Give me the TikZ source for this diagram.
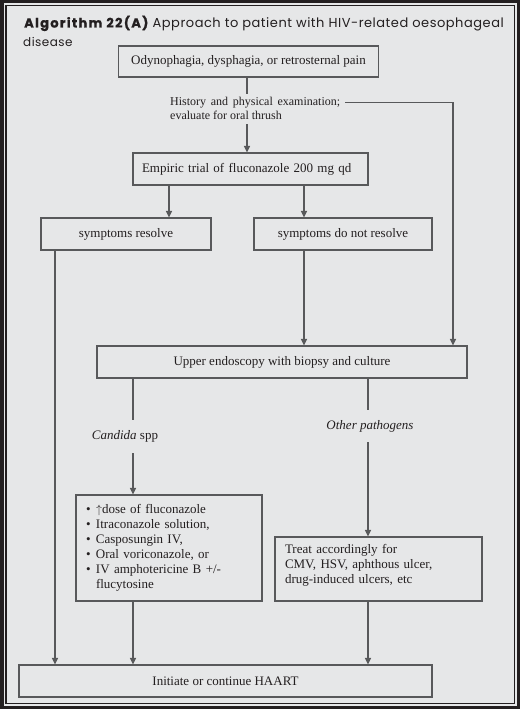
\documentclass[tikz,border=0pt]{standalone}
\usepackage{fontspec}
\setmainfont{Liberation Serif}
\newfontfamily\titlefont[LetterSpace=4]{Poppins}
\newfontfamily\titlebold[LetterSpace=10, BoldFeatures={FakeBold=1.2}]{Poppins}
\usetikzlibrary{arrows.meta,calc}
\definecolor{framec}{HTML}{231F20}
\definecolor{panelc}{HTML}{E6E7E8}
\definecolor{linec}{HTML}{58595B}
\definecolor{txtc}{HTML}{231F20}
\begin{document}
\begin{tikzpicture}[x=1pt,y=-1pt,
  box/.style={draw=linec, line width=1.1pt, fill=panelc, inner sep=0pt, text=txtc, font=\fontsize{13}{15}\selectfont},
  lbl/.style={inner sep=0pt, text=txtc, font=\fontsize{13}{15}\selectfont},
  arr/.style={draw=linec, line width=1.1pt, -{Triangle[length=6.5pt,width=6pt]}},
  conn/.style={draw=linec, line width=1.1pt}]
\useasboundingbox (0,0) rectangle (520,709);
\fill[framec] (0,0) rectangle (520,709);
\fill[panelc] (3.5,3.5) rectangle (516.5,705.5);
\fill[framec] (5,5) rectangle (515,704);
\fill[panelc] (6.5,6.5) rectangle (513.5,702.5);
% coordinates of connector columns
\coordinate (cx) at (247,0);
\coordinate (rx) at (453,0);
\coordinate (ax1) at (169,0);
\coordinate (ax2) at (304,0);
\coordinate (lx) at (55,0);
\coordinate (kx) at (133,0);
\coordinate (ox) at (368,0);
% title
\node[anchor=base west, inner sep=0pt, text=txtc] (t1) at (24,27.5)
  {\fontsize{13}{16}\selectfont{\titlebold\bfseries Algorithm 22(A)}\hspace{1pt} \titlefont Approach to patient with HIV-related oesophageal};
\node[anchor=base west, inner sep=0pt, text=txtc] (t2) at (23,47)
  {\titlefont\fontsize{12}{16}\selectfont disease};
% boxes
\node[box, minimum width=260pt, minimum height=31pt] (b1) at (248.5,61.5) {Odynophagia, dysphagia, or retrosternal pain};
\node[lbl, anchor=base west, inner xsep=5pt, inner ysep=2.5pt, font=\fontsize{12}{14}\selectfont] (h1) at (165,105)
  {\makebox[170pt][s]{History and physical examination;}};
\node[lbl, anchor=base west, inner ysep=5pt, font=\fontsize{12}{14}\selectfont] (h2) at (170,119) {evaluate for oral thrush};
\node[box, minimum width=235pt, minimum height=32pt, text width=217pt, align=left] (b2) at (250.5,169) {Empiric trial of fluconazole 200 mg qd};
\node[box, minimum width=170pt, minimum height=32pt] (b3) at (126,234) {symptoms resolve};
\node[box, minimum width=178pt, minimum height=32pt] (b4) at (343,234) {symptoms do not resolve};
\node[box, minimum width=370pt, minimum height=32pt] (endo) at (282,362) {Upper endoscopy with biopsy and culture};
\node[lbl, minimum height=33pt] (cl) at (125,436.5) {\textit{Candida} spp};
\node[lbl, minimum height=32pt] (ol) at (370,426) {\textit{Other pathogens}};
\node[box, minimum width=186pt, minimum height=106pt, text width=166pt, inner xsep=10pt, align=left] (cbox) at (169,548)
  {\makebox[10pt][l]{\textbullet}$\uparrow$dose of fluconazole\\
   \makebox[10pt][l]{\textbullet}Itraconazole solution,\\
   \makebox[10pt][l]{\textbullet}Casposungin IV,\\
   \makebox[10pt][l]{\textbullet}Oral voriconazole, or\\
   \makebox[10pt][l]{\textbullet}IV amphotericine B +/-\\
   \hspace*{10pt}flucytosine};
\node[box, minimum width=207pt, minimum height=64pt, text width=187pt, inner xsep=10pt, align=left] (tbox) at (378.5,569)
  {Treat accordingly for\\ CMV, HSV, aphthous ulcer,\\ drug-induced ulcers, etc\par\vspace{8pt}};
\node[box, minimum width=413pt, minimum height=32pt] (haart) at (225.5,681) {Initiate or continue HAART};
% connectors
\draw[conn] (b1.south -| cx) -- (h1.north -| cx);
\draw[arr] (h2.south -| cx) -- (b2.north -| cx);
\draw[arr] (h1.east) -- (h1.east -| rx) -- (endo.north -| rx);
\draw[arr] (b2.south -| ax1) -- (b3.north -| ax1);
\draw[arr] (b2.south -| ax2) -- (b4.north -| ax2);
\draw[arr] (b4.south -| ax2) -- (endo.north -| ax2);
\draw[arr] (b3.south -| lx) -- (haart.north -| lx);
\draw[conn] (endo.south -| kx) -- (cl.north -| kx);
\draw[arr] (cl.south -| kx) -- (cbox.north -| kx);
\draw[conn] (endo.south -| ox) -- (ol.north -| ox);
\draw[arr] (ol.south -| ox) -- (tbox.north -| ox);
\draw[arr] (cbox.south -| kx) -- (haart.north -| kx);
\draw[arr] (tbox.south -| ox) -- (haart.north -| ox);
\end{tikzpicture}
\end{document}
